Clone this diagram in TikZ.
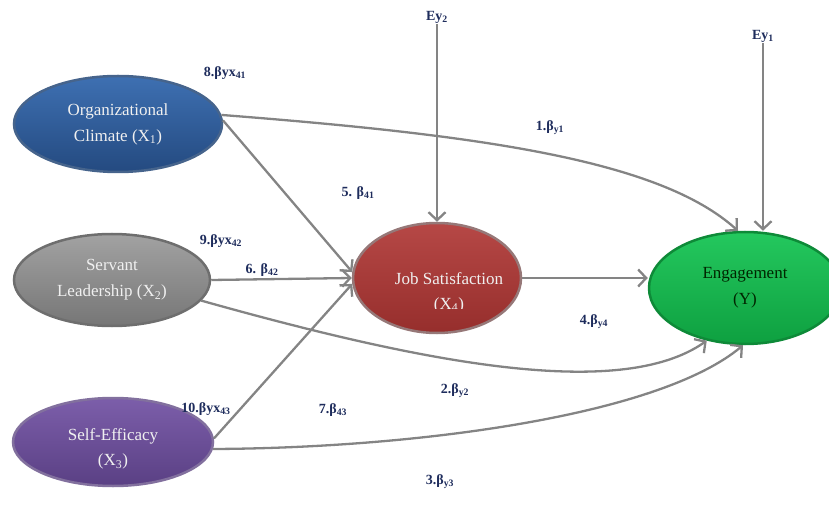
\documentclass[tikz,border=0pt]{standalone}
\usepackage{fontspec}
\setmainfont{Liberation Serif}
\usetikzlibrary{shapes.geometric,arrows.meta}

\definecolor{linkgray}{RGB}{132,132,132}
\definecolor{labelnavy}{RGB}{30,44,92}
\definecolor{ocTop}{RGB}{62,112,178}
\definecolor{ocBot}{RGB}{36,74,128}
\definecolor{ocRim}{RGB}{70,100,140}
\definecolor{slTop}{RGB}{162,162,162}
\definecolor{slBot}{RGB}{118,118,118}
\definecolor{slRim}{RGB}{110,110,110}
\definecolor{seTop}{RGB}{124,94,170}
\definecolor{seBot}{RGB}{90,64,132}
\definecolor{seRim}{RGB}{130,112,158}
\definecolor{jsTop}{RGB}{182,72,70}
\definecolor{jsBot}{RGB}{150,46,44}
\definecolor{jsRim}{RGB}{150,120,120}
\definecolor{enTop}{RGB}{36,200,94}
\definecolor{enBot}{RGB}{14,160,64}
\definecolor{enRim}{RGB}{14,138,56}

\tikzset{
  latent/.style={ellipse, inner sep=0pt, line width=2.5pt, align=center,
    font=\fontsize{17}{26}\selectfont},
  caption/.style={align=center, inner sep=0pt,
    font=\fontsize{17}{25}\selectfont},
  link/.style={draw=linkgray, line width=2.3pt,
    -{Straight Barb[length=8pt,width=17pt,line width=2.3pt]}},
  coef/.style={text=labelnavy, font=\fontsize{14}{16}\selectfont\bfseries,
    inner sep=1pt},
}

\begin{document}
\begin{tikzpicture}[x=1pt,y=-1pt]
\useasboundingbox (0,0) rectangle (829,510);

% latent variables
\node[latent, minimum width=208pt, minimum height=96pt,
      top color=ocTop, bottom color=ocBot, draw=ocRim, text=white!94!black]
  (oc) at (118,124) {Organizational\\Climate (X\textsubscript{1})};
\node[latent, minimum width=196pt, minimum height=92pt,
      top color=slTop, bottom color=slBot, draw=slRim, text=white!94!black]
  (sl) at (112,280) {Servant\\Leadership (X\textsubscript{2})};
\node[latent, minimum width=200pt, minimum height=88pt,
      top color=seTop, bottom color=seBot, draw=seRim]
  (se) at (113,442) {};
\node[caption, text=white!94!black] (set) at (113,449)
  {Self-Efficacy\\(X\textsubscript{3})};
\node[latent, minimum width=168pt, minimum height=110pt,
      top color=jsTop, bottom color=jsBot, draw=jsRim]
  (js) at (437,278) {};
\begin{scope}
  % the second caption line is cut off at the lower edge of its box
  \clip (353,230) rectangle (521,308);
  \node[caption, text=white!94!black, anchor=north] (jst) at (449,272)
    {Job Satisfaction\\(X\textsubscript{4})};
\end{scope}
\node[latent, minimum width=192pt, minimum height=112pt,
      top color=enTop, bottom color=enBot, draw=enRim, text=black!85!green]
  (en) at (745,288) {Engagement\\(Y)};

% error terms
\node[coef] (ey2) at (437,17) {Ey\textsubscript{2}};
\node[coef] (ey1) at (763,36) {Ey\textsubscript{1}};

% path coefficients
\node[coef] (c8)  at (225,73)  {8.βyx\textsubscript{41}};
\node[coef] (c1)  at (550,128) {1.β\textsubscript{y1}};
\node[coef] (c5)  at (358,193) {5. β\textsubscript{41}};
\node[coef] (c9)  at (221,241) {9.βyx\textsubscript{42}};
\node[coef] (c6)  at (262,270) {6. β\textsubscript{42}};
\node[coef] (c4)  at (594,322) {4.β\textsubscript{y4}};
\node[coef] (c2)  at (455,391) {2.β\textsubscript{y2}};
\node[coef] (c10) at (206,409) {10.βyx\textsubscript{43}};
\node[coef] (c7)  at (333,410) {7.β\textsubscript{43}};
\node[coef] (c3)  at (440,482) {3.β\textsubscript{y3}};

% paths into job satisfaction
\draw[link] (oc.2) -- (js.176);
\draw[link] (sl.east) -- (js.west);
\draw[link] (se.2) -- (js.184);
\draw[link] (ey2.south) -- (js.north);

% paths into engagement
\draw[link] (js.east) -- (js.east -| en.west);
\draw[link] (ey1.south) -- (ey1.south |- en.north);
\draw[link] (oc.5) .. controls (480,135) and (660,160) .. (en.97);
\draw[link] (sl.-13) .. controls (420,362) and (620,402) .. (en.-126);
\draw[link] (se.-4) .. controls (420,448) and (660,415) .. (en.-92);
\end{tikzpicture}
\end{document}
